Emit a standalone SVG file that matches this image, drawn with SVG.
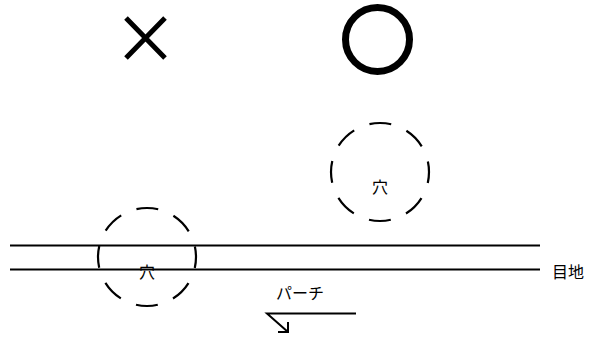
<svg xmlns="http://www.w3.org/2000/svg" width="591" height="337" viewBox="0 0 591 337">
<style>
.t{font-family:"Noto Sans CJK JP","Noto Sans",sans-serif;font-size:16px;fill:#000}
.d{fill:none;stroke:#000;stroke-width:2.2;stroke-dasharray:22,16.48;stroke-dashoffset:11}
.l{stroke:#000;stroke-width:2;fill:none}
</style>
<rect width="591" height="337" fill="#fff"/>
<g id="mark-x"><path d="M126,18 L165,58 M165,18 L126,58" stroke="#000" stroke-width="5"/></g>
<g id="mark-o"><circle cx="377.5" cy="39.5" r="32" fill="none" stroke="#000" stroke-width="7"/></g>
<g id="hole-top"><circle class="d" cx="380" cy="172" r="49"/><text class="t" x="380" y="193" text-anchor="middle">穴</text></g>
<g id="hole-bottom"><circle class="d" cx="147" cy="257" r="49"/><text class="t" x="147" y="278" text-anchor="middle">穴</text></g>
<g id="joint"><line class="l" x1="10" y1="245.5" x2="540" y2="245.5"/><line class="l" x1="10" y1="269.5" x2="540" y2="269.5"/><text class="t" x="552" y="278">目地</text></g>
<g id="connectors">
<path class="l" d="M356,313.5 L267,313.5 L288,332"/>
<path class="l" d="M278,332 L288,332 L288,322"/>
</g>
<text class="t" x="276" y="299">パーチ</text>
</svg>
